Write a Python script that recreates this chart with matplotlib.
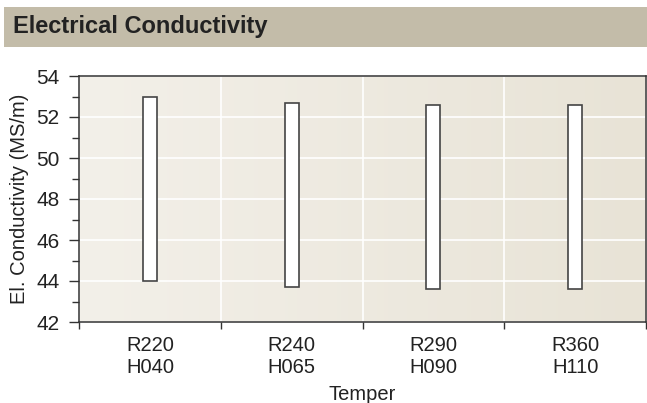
import matplotlib
matplotlib.use("Agg")
import matplotlib.pyplot as plt
import numpy as np
from matplotlib.patches import Rectangle
from matplotlib.colors import LinearSegmentedColormap

plt.rcParams['font.family'] = ['Liberation Sans', 'DejaVu Sans']

# data
tempers = ["R220\nH040", "R240\nH065", "R290\nH090", "R360\nH110"]
cond_min = [44.0, 43.7, 43.6, 43.6]
cond_max = [53.0, 52.7, 52.6, 52.6]

txt = "#222222"
fig = plt.figure(figsize=(6.47, 4.03), dpi=100)

# header bar
fig.patches.append(Rectangle((4 / 647, 1 - 47 / 403), 1, 40 / 403,
                             transform=fig.transFigure, facecolor="#c3bca9",
                             edgecolor="none", zorder=0))
fig.text(13 / 647, 1 - 26.5 / 403, "Electrical Conductivity", fontsize=17,
         fontweight="bold", color=txt, va="center", ha="left")

ax = fig.add_axes([79 / 647, 1 - 322 / 403, 567 / 647, 246 / 403])

# gradient background
cmap = LinearSegmentedColormap.from_list("bg", ["#f3f0e9", "#e8e3d6"])
grad = np.linspace(0, 1, 256).reshape(1, -1)
ax.imshow(grad, cmap=cmap, aspect="auto", extent=[0.5, 4.5, 42, 54],
          zorder=0, interpolation="bilinear")

x = np.arange(1, len(tempers) + 1)
heights = np.array(cond_max) - np.array(cond_min)
ax.bar(x, heights, bottom=cond_min, width=0.1, facecolor="white",
       edgecolor="#444444", linewidth=1.2, zorder=3)

ax.set_xlim(0.5, 4.5)
ax.set_ylim(42, 54)
ax.set_yticks(np.arange(42, 55, 2))
ax.set_yticks(np.arange(43, 54, 2), minor=True)
ax.set_xticks(np.arange(0.5, 4.6, 1))
ax.set_xticklabels([])
ax.set_xticks(x, minor=True)
ax.set_xticklabels(tempers, minor=True)

ax.grid(True, which="major", color="white", linewidth=1.2, zorder=1)
ax.set_axisbelow(True)

ax.tick_params(axis="y", which="major", direction="out", length=7.2,
               width=1, labelsize=15, colors="#333333", labelcolor=txt, pad=7)
ax.tick_params(axis="y", which="minor", direction="out", length=5,
               width=1, colors="#333333")
ax.tick_params(axis="x", which="major", direction="out", length=5,
               width=1, colors="#333333")
ax.tick_params(axis="x", which="minor", length=0, labelsize=14.5,
               labelcolor=txt, pad=10)

for s in ax.spines.values():
    s.set_color("#333333")
    s.set_linewidth(1.1)

ax.set_xlabel("Temper", fontsize=14.5, color=txt, labelpad=6)
ax.set_ylabel("El. Conductivity (MS/m)", fontsize=14.5, color=txt, labelpad=5)

fig.savefig("out.png", dpi=100)
